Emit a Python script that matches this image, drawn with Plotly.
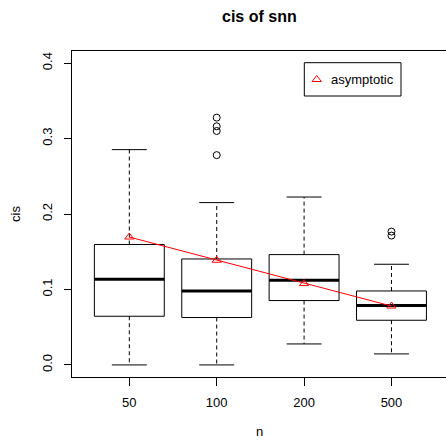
import plotly.graph_objects as go

# ---- data ----
groups = ["50", "100", "200", "500"]
q1 = [0.0645, 0.0628, 0.0853, 0.0592]
med = [0.1135, 0.0980, 0.1122, 0.0787]
q3 = [0.1596, 0.1404, 0.1462, 0.0980]
lo = [0.0000, 0.0000, 0.0278, 0.0146]
hi = [0.2853, 0.2151, 0.2225, 0.1334]
outliers = [[], [0.3277, 0.3162, 0.3100, 0.2780], [], [0.1767, 0.1714]]
asym = [0.1695, 0.1387, 0.1078, 0.0780]
yticks = [0.0, 0.1, 0.2, 0.3, 0.4]
ytick_labels = ["0.0", "0.1", "0.2", "0.3", "0.4"]

FONT = "Liberation Sans, Arial, Helvetica, sans-serif"
W, H = 446, 441
ML, MR, MT, MB = 72, 0, 51, 64
PW, PH = W - ML - MR, H - MT - MB

def px(xp):
    return (xp - ML) / PW

def py(yp):
    return (H - MB - yp) / PH

fig = go.Figure()
bw = 0.4
cw = 0.2
for i, g in enumerate(groups):
    p = i + 1
    # whiskers (dashed)
    fig.add_trace(go.Scatter(x=[p, p, None, p, p], y=[q3[i], hi[i], None, q1[i], lo[i]],
                             mode="lines", line=dict(color="black", width=1, dash="4px,3px"),
                             showlegend=False, hoverinfo="skip"))
    # staples
    fig.add_trace(go.Scatter(x=[p - cw, p + cw, None, p - cw, p + cw], y=[hi[i], hi[i], None, lo[i], lo[i]],
                             mode="lines", line=dict(color="black", width=1),
                             showlegend=False, hoverinfo="skip"))
    # box
    fig.add_trace(go.Scatter(x=[p - bw, p + bw, p + bw, p - bw, p - bw],
                             y=[q1[i], q1[i], q3[i], q3[i], q1[i]],
                             mode="lines", line=dict(color="black", width=1),
                             showlegend=False, hoverinfo="skip"))
    # median
    fig.add_trace(go.Scatter(x=[p - bw, p + bw], y=[med[i], med[i]],
                             mode="lines", line=dict(color="black", width=3),
                             showlegend=False, hoverinfo="skip"))
    if outliers[i]:
        fig.add_trace(go.Scatter(x=[p] * len(outliers[i]), y=outliers[i], mode="markers",
                                 marker=dict(symbol="circle-open", size=7, color="black",
                                             line=dict(width=1, color="black")),
                                 showlegend=False, hoverinfo="skip"))

fig.add_trace(go.Scatter(x=[1, 2, 3, 4], y=asym, mode="lines+markers", name="asymptotic",
                         line=dict(color="red", width=1),
                         marker=dict(symbol="triangle-up-open", size=8, color="red",
                                     line=dict(width=1, color="red")),
                         showlegend=False))

# legend glyph on an overlay axis in [0,1]
fig.add_trace(go.Scatter(x=[px(316.7)], y=[py(79.5)], mode="markers", xaxis="x2", yaxis="y2",
                         marker=dict(symbol="triangle-up-open", size=8, color="red",
                                     line=dict(width=1, color="red")),
                         showlegend=False, hoverinfo="skip"))

fig.add_shape(type="rect", xref="paper", yref="paper",
              x0=px(304.3), x1=px(401), y0=py(96), y1=py(62.7),
              line=dict(color="black", width=1))

annotations = [
    dict(text="asymptotic", xref="paper", yref="paper", x=px(328.5), y=py(79.5),
         xanchor="left", yanchor="middle", showarrow=False, font=dict(size=13, color="black")),
    dict(text="<b>cis of snn</b>", xref="paper", yref="paper", x=0.5, y=py(17),
         xanchor="center", yanchor="middle", showarrow=False, font=dict(size=16, color="black")),
    dict(text="n", xref="paper", yref="paper", x=0.5, y=py(440.5),
         xanchor="center", yanchor="bottom", showarrow=False, font=dict(size=13, color="black")),
    dict(text="cis", xref="paper", yref="paper", x=px(15), y=0.5, textangle=-90,
         xanchor="center", yanchor="middle", showarrow=False, font=dict(size=13, color="black")),
]

fig.update_layout(
    width=W, height=H,
    margin=dict(l=ML, r=MR, t=MT, b=MB, pad=0),
    paper_bgcolor="white", plot_bgcolor="white",
    font=dict(family=FONT, size=13, color="black"),
    showlegend=False,
    annotations=annotations,
    xaxis=dict(range=[0.344, 4.624], tickmode="array", tickvals=[1, 2, 3, 4], ticktext=groups,
               ticks="outside", ticklen=8, tickcolor="black", showline=True, mirror=True,
               linecolor="black", linewidth=1, showgrid=False, zeroline=False,
               ticklabelstandoff=5, tickfont=dict(size=13)),
    yaxis=dict(range=[-0.016, 0.416], tickmode="array", tickvals=yticks, ticktext=ytick_labels,
               tickangle=-90, ticks="outside", ticklen=7, tickcolor="black", showline=True,
               mirror=False, linecolor="black", linewidth=1, showgrid=False, zeroline=False,
               ticklabelstandoff=7, tickfont=dict(size=13)),
    xaxis2=dict(range=[0, 1], domain=[0, 1], overlaying="x", visible=False, fixedrange=True),
    yaxis2=dict(range=[0, 1], domain=[0, 1], overlaying="y", visible=False, fixedrange=True),
)

fig.write_html("out.html", config={"displayModeBar": False})
